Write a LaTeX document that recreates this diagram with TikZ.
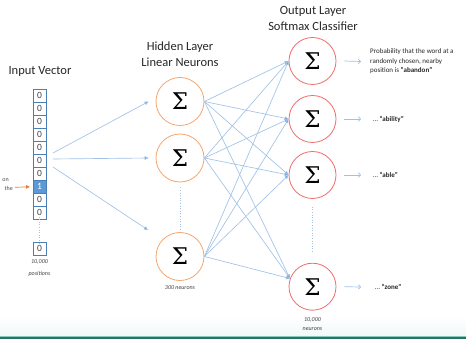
\documentclass[tikz,border=0pt]{standalone}
\usepackage{fontspec}
\setmainfont{Carlito}
\newfontfamily\sigmafont{DejaVu Serif}
\usetikzlibrary{arrows.meta,calc}
\definecolor{lineblue}{HTML}{A0C2E6}
\definecolor{tipblue}{HTML}{5B9BD5}
\definecolor{cellblue}{HTML}{4A7FB5}
\definecolor{fillblue}{HTML}{5B9BD5}
\definecolor{hidorange}{HTML}{F4A46C}
\definecolor{outred}{HTML}{F26B6B}
\definecolor{arrorange}{HTML}{ED7D31}
\definecolor{tealdark}{HTML}{2B7264}
\definecolor{teallight}{HTML}{86C9BD}
\definecolor{txtgray}{HTML}{404040}
\begin{document}
\begin{tikzpicture}[x=1pt,y=-1pt,
  cell/.style={draw=cellblue,line width=0.6pt,minimum width=13pt,minimum height=13pt,
    inner sep=0pt,font=\fontsize{9.5}{9.5}\selectfont,text=txtgray},
  hotcell/.style={cell,fill=fillblue,text=white},
  hidden/.style={circle,draw=hidorange,line width=0.8pt,minimum size=48pt,inner sep=0pt,
    font=\sigmafont\fontsize{23}{23}\selectfont},
  outnode/.style={circle,draw=outred,line width=0.8pt,minimum size=47pt,inner sep=0pt,
    font=\sigmafont\fontsize{23}{23}\selectfont},
  title/.style={font=\fontsize{12.5}{15.5}\selectfont,text=black!85,align=center,inner sep=0pt},
  note/.style={font=\fontsize{6}{8.5}\selectfont\itshape,text=txtgray,align=center,inner sep=0pt},
  prob/.style={font=\fontsize{7}{9.5}\selectfont,text=black!85,align=left,inner sep=0pt,anchor=west},
  wire/.style={draw=lineblue,line width=0.65pt,-{Triangle[length=4pt,width=3.5pt,fill=tipblue]}},
  outarrow/.style={draw=lineblue,line width=0.7pt,-{To[length=3pt,width=5pt]}},
  dotline/.style={draw=lineblue,line width=0.6pt,dotted}
]
\useasboundingbox (0,0) rectangle (466,339);

% footer band
\shade[top color=white,bottom color=teallight!12] (0,316) rectangle (466,336.2);
\draw[teallight,line width=0.8pt] (0,336.6) -- (466,336.6);
\fill[tealdark] (0,337.3) rectangle (466,339);

% titles
\node[title] (tin) at (40,71) {Input Vector};
\node[title] (thid) at (180,54) {Hidden Layer\\Linear Neurons};
\node[title] (tout) at (313,18.5) {Output Layer\\Softmax Classifier};

% input vector cells
\foreach \i in {1,...,7} {
  \node[cell] (c\i) at (39.5,{89.3+13*(\i-1)+6.5}) {0};
}
\node[hotcell] (c8) at (39.5,{89.3+13*7+6.5}) {1};
\node[cell] (c9) at (39.5,{89.3+13*8+6.5}) {0};
\node[cell] (c10) at (39.5,{89.3+13*9+6.5}) {0};
\node[cell] (c11) at (39.5,248.8) {0};
\draw[dotline] ([yshift=3pt]c10.south) -- ([yshift=-3pt]c11.north);
\node[note,font=\fontsize{6}{12.5}\selectfont\itshape] (npos) at (39.5,268) {10,000\\positions};

% partial caption at the left edge and its pointer
\node[font=\fontsize{6}{7}\selectfont,text=black!70,anchor=east,inner sep=0pt] (lon) at (9,180.5) {on};
\node[font=\fontsize{6}{7}\selectfont,text=black!70,anchor=east,inner sep=0pt] (lthe) at (13,188.5) {the};
\coordinate (pin) at (15,187.3);
\draw[arrorange,line width=0.7pt,-{Triangle[length=3.5pt,width=3.5pt]}] (pin) -- ([xshift=-3pt]c8.west);

% hidden layer
\node[hidden] (h1) at (180,101.5) {Σ};
\node[hidden] (h2) at (180,158) {Σ};
\node[hidden] (h3) at (180,256.5) {Σ};
\draw[dotline] ([yshift=-5pt]h2.south) -- ([yshift=3pt]h3.north);
\node[note] (n300) at (180,288) {300 neurons};

% output layer
\node[outnode] (o1) at (312.5,61) {Σ};
\node[outnode] (o2) at (312.5,119) {Σ};
\node[outnode] (o3) at (312.5,175) {Σ};
\node[outnode] (o4) at (312.5,286.7) {Σ};
\draw[dotline] ([yshift=-8pt]o3.south) -- ([yshift=10pt]o4.north);
\node[note,font=\fontsize{6}{9}\selectfont\itshape] (n10k) at (312.5,324.5) {10,000\\neurons};

% input to hidden
\coordinate (s1) at (53,153);
\coordinate (s2) at (53,159);
\coordinate (s3) at (53,167);
\coordinate (e3) at (148,230);
\draw[wire] (s1) -- ([xshift=-7pt]h1.west);
\draw[wire] (s2) -- ([xshift=-7pt]h2.west);
\draw[wire] (s3) -- (e3);

% hidden to output, fully connected
\foreach \h in {h1,h2,h3} {
  \draw[wire] (\h.east) -- (o1.west);
  \draw[wire] (\h.east) -- (o2.west);
  \draw[wire] (\h.east) -- (o3.west);
  \draw[wire] (\h.east) -- (o4.160);
}

% output labels
\node[prob] (p1) at (370,61.5) {Probability that the word at a\\randomly chosen, nearby\\position is \textbf{``abandon''}};
\node[prob] (p2) at (373,119) {\dots{} \textbf{``ability''}};
\node[prob] (p3) at (373,175) {\dots{} \textbf{``able''}};
\node[prob] (p4) at (375,287) {\dots{} \textbf{``zone''}};
\draw[outarrow] ([xshift=8pt]o1.east) -- ([xshift=-9pt]p1.west);
\draw[outarrow] ([xshift=8pt]o2.east) -- ([xshift=-12pt]p2.west);
\draw[outarrow] ([xshift=8pt]o3.east) -- ([xshift=-12pt]p3.west);
\draw[outarrow] ([xshift=8pt]o4.east) -- ([xshift=-14pt]p4.west);
\end{tikzpicture}
\end{document}
